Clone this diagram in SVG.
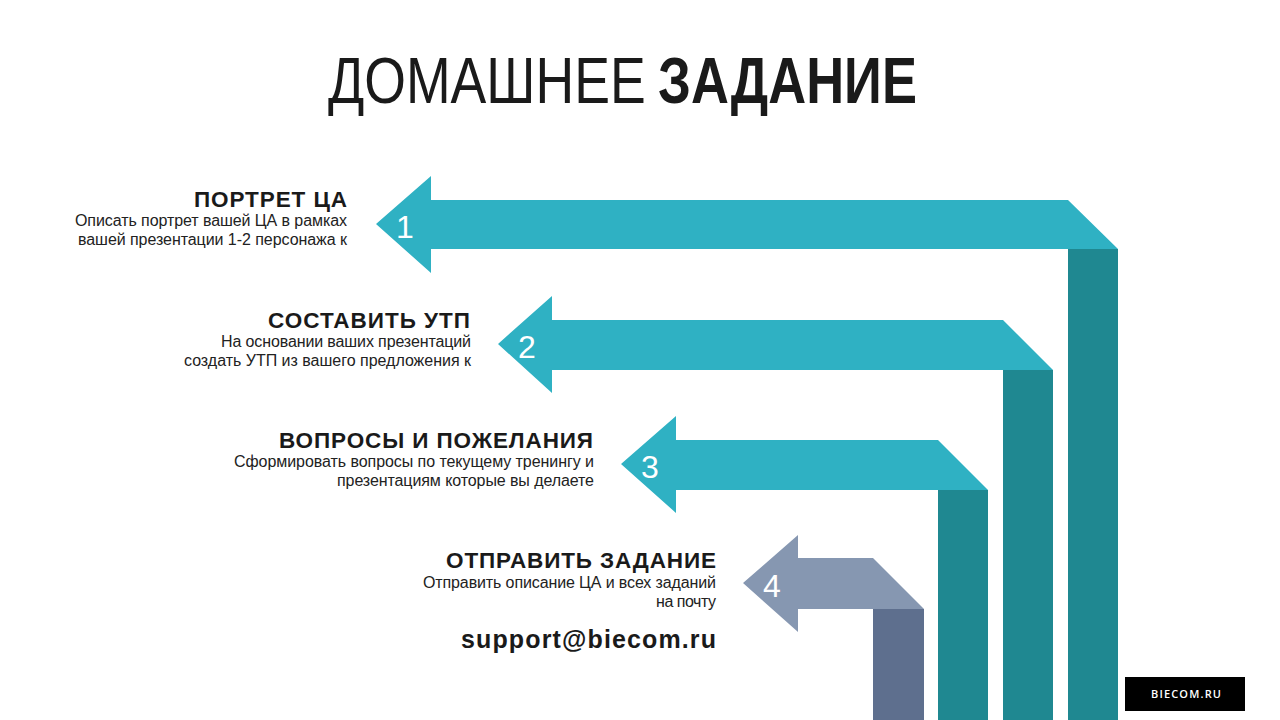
<svg xmlns="http://www.w3.org/2000/svg" width="1280" height="720" viewBox="0 0 1280 720">
<style>
.t{font-family:"Liberation Sans",Arial,sans-serif;fill:#1a1a1a}
.h{font-weight:bold;font-size:22.5px;text-anchor:end}
.b{font-size:16px;text-anchor:end;fill:#222}
.n{font-family:"Liberation Sans",Arial,sans-serif;font-size:32px;fill:#ffffff;text-anchor:middle}
.lt{fill:#2fb1c3}
.dk{fill:#1f8891}
.lg{fill:#8697b1}
.dg{fill:#5e6f8e}
</style>
<rect width="1280" height="720" fill="#ffffff"/>
<g id="title">
<text class="t" transform="translate(328,103) scale(0.8426,1)" x="0" y="0" font-size="64" fill="#262626" textLength="377" lengthAdjust="spacingAndGlyphs">ДОМАШНЕЕ</text>
<text class="t" transform="translate(658,103) scale(0.822,1)" x="0" y="0" font-size="64" font-weight="bold" fill="#262626" textLength="315" lengthAdjust="spacingAndGlyphs">ЗАДАНИЕ</text>
</g>
<g id="connectors">
<rect class="dk" x="1068" y="249" width="50" height="471"/>
<rect class="dk" x="1003" y="370" width="50" height="350"/>
<rect class="dk" x="938" y="490" width="50" height="230"/>
<rect class="dg" x="873" y="609" width="51" height="111"/>
</g>
<g id="arrow1">
<polygon class="lt" points="376,224 431,176 431,200 1068,200 1118,249 431,249 431,273"/>
<text class="n" x="405" y="238">1</text>
</g>
<g id="arrow2">
<polygon class="lt" points="498,344 552,296 552,320 1003,320 1053,370 552,370 552,393"/>
<text class="n" x="527" y="358">2</text>
</g>
<g id="arrow3">
<polygon class="lt" points="621,464 676,416 676,440 938,440 988,490 676,490 676,513"/>
<text class="n" x="650" y="478">3</text>
</g>
<g id="arrow4">
<polygon class="lg" points="743,583 798,535 798,558 873,558 924,609 798,609 798,632"/>
<text class="n" x="772" y="597">4</text>
</g>
<g id="item1">
<text class="t h" x="347" y="207" textLength="153">ПОРТРЕТ ЦА</text>
<text class="t b" x="347" y="226" textLength="272">Описать портрет вашей ЦА в рамках</text>
<text class="t b" x="347" y="245" textLength="269">вашей презентации  1-2 персонажа  к</text>
</g>
<g id="item2">
<text class="t h" x="470" y="328" textLength="202">СОСТАВИТЬ УТП</text>
<text class="t b" x="471" y="347" textLength="250">На основании ваших презентаций</text>
<text class="t b" x="471" y="366" textLength="287">создать УТП из вашего предложения  к</text>
</g>
<g id="item3">
<text class="t h" x="593" y="448" textLength="314">ВОПРОСЫ И ПОЖЕЛАНИЯ</text>
<text class="t b" x="594" y="467" textLength="360">Сформировать вопросы по текущему  тренингу  и</text>
<text class="t b" x="594" y="486" textLength="257">презентациям  которые вы делаете</text>
</g>
<g id="item4">
<text class="t h" x="716" y="568" textLength="270">ОТПРАВИТЬ ЗАДАНИЕ</text>
<text class="t b" x="716" y="588" textLength="293">Отправить описание ЦА и всех заданий</text>
<text class="t b" x="716" y="607" textLength="60">на почту</text>
<text class="t" x="716" y="648" font-size="25" font-weight="bold" text-anchor="end" textLength="255">support@biecom.ru</text>
</g>
<g id="logo">
<rect x="1125" y="677" width="120" height="34" fill="#000000"/>
<text x="1186" y="698" font-family="'Open Sans','Liberation Sans',sans-serif" font-weight="600" font-size="11" fill="#ffffff" text-anchor="middle" textLength="70">BIECOM.RU</text>
</g>
</svg>
